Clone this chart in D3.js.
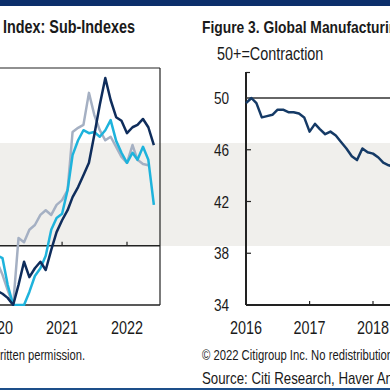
<!DOCTYPE html>
<html>
<head>
<meta charset="utf-8">
<script src="https://cdn.jsdelivr.net/npm/d3@7"></script>
<style>
  body { margin: 0; background: #fff; }
  svg { display: block; font-family: "Liberation Sans", Arial, sans-serif; }
</style>
</head>
<body>
<div id="chart"></div>
<script>
// left panel: sub-indexes, monthly Dec 2019 .. Jun 2022
var leftMonths = ["2019-12","2020-01","2020-02","2020-03","2020-04","2020-05","2020-06","2020-07","2020-08","2020-09","2020-10","2020-11","2020-12",
  "2021-01","2021-02","2021-03","2021-04","2021-05","2021-06","2021-07","2021-08","2021-09","2021-10","2021-11","2021-12",
  "2022-01","2022-02","2022-03","2022-04","2022-05","2022-06"];
var navySeries = [42.5, 42.4, 41.9, 41.2, 40, 43.4, 47.3, 44.7, 46.2, 47.3, 45.9, 49.3, 52.3, 54.3, 56.0, 58.2, 59.9, 61.9, 64.0, 68.7, 73.8, 78.3, 74.6, 71.7, 71.1, 69.0, 70.0, 70.4, 71.4, 70.0, 67.0];
var cyanSeries = [49.6, 48.4, 47.9, 43.4, 40, 40, 40, 42.2, 44.9, 46.2, 48.3, 52.7, 54.7, 55.4, 59.4, 65.3, 67.8, 69.5, 69.0, 69.2, 68.4, 69.5, 71.2, 67.7, 65.7, 64.0, 65.7, 64.5, 66.7, 64.5, 56.9];
var graySeries = [49.3, 47.3, 45.1, 42.5, 40, 51.3, 50.6, 52.7, 53.5, 55.2, 56.0, 55.2, 56.9, 57.7, 59.4, 69.2, 69.9, 70.4, 75.8, 72.1, 69.5, 67.8, 68.4, 66.7, 65.0, 64.0, 67.0, 64.5, 63.8, 63.6, null];
var leftYears = ["2020", "2021", "2022"];

// right panel: global manufacturing, monthly Jan 2016 .. May 2018
var rightStart = "2016-01";
var rightSeries = [49.6, 50.0, 49.6, 48.5, 48.6, 48.7, 49.1, 49.1, 48.9, 48.9, 48.8, 48.5, 47.4, 48.0, 47.6, 47.2, 47.4, 47.1, 46.6, 46.1, 45.5, 45.2, 46.1, 45.8, 45.7, 45.4, 45.0, 44.8, 44.7];
var rightYears = ["2016", "2017", "2018"];
var rightTicks = [50, 46, 42, 38, 34];

var width = 390, height = 390;
var sx = 0.8; // glyphs in the picture are narrow
var parseMonth = d3.timeParse("%Y-%m");
var ink = "#222";

var svg = d3.select("#chart")
  .append("svg")
  .attr("width", width)
  .attr("height", height);

// header bar, footer rule and the grey band across the middle
svg.append("rect").attr("x", 0).attr("y", 0).attr("width", width).attr("height", 6).attr("fill", "#0c2f6b");
svg.append("rect").attr("x", 0).attr("y", 388).attr("width", width).attr("height", 2).attr("fill", "#1d4f8a");
svg.append("rect").attr("x", 0).attr("y", 143).attr("width", width).attr("height", 103).attr("fill", "#f0efec");

function label(x, y, txt, size, opts) {
  opts = opts || {};
  return svg.append("text")
    .attr("transform", "translate(" + x + "," + y + ") scale(" + sx + ",1)")
    .attr("text-anchor", opts.anchor || "start")
    .style("font-size", size + "px")
    .style("font-weight", opts.bold ? "bold" : "normal")
    .attr("fill", opts.fill || "#1a1a1a")
    .text(txt);
}

/// LEFT PANEL
var xL = d3.scaleTime()
  .domain([parseMonth("2020-01"), parseMonth("2022-01")])
  .range([-3, 127]);
var yL = d3.scaleLinear()
  .domain([40, 80])
  .range([305, 68]);

var left = svg.append("g").attr("class", "left");

left.append("clipPath").attr("id", "clip-left")
  .append("rect").attr("x", -10).attr("y", yL(80)).attr("width", 170).attr("height", yL(40) - yL(80) + 1);

// frame
left.append("line").attr("x1", 0).attr("x2", 160).attr("y1", yL(80)).attr("y2", yL(80)).attr("stroke", ink).attr("stroke-width", 1.2);
left.append("line").attr("x1", 160).attr("x2", 160).attr("y1", yL(80)).attr("y2", yL(40)).attr("stroke", ink).attr("stroke-width", 1.2);
left.append("line").attr("x1", 0).attr("x2", 160).attr("y1", yL(40)).attr("y2", yL(40)).attr("stroke", ink).attr("stroke-width", 1.5);
left.append("line").attr("x1", 0).attr("x2", 160).attr("y1", yL(50)).attr("y2", yL(50)).attr("stroke", ink).attr("stroke-width", 1.5);

// year ticks sit on the 50 line
left.selectAll("line.ytick")
  .data(leftYears.slice(1))
  .enter()
  .append("line")
  .attr("class", "ytick")
  .attr("x1", function (d) { return xL(parseMonth(d + "-01")); })
  .attr("x2", function (d) { return xL(parseMonth(d + "-01")); })
  .attr("y1", yL(50))
  .attr("y2", yL(50) - 4)
  .attr("stroke", ink)
  .attr("stroke-width", 1.2);

var lineL = d3.line()
  .defined(function (d) { return d.v != null; })
  .x(function (d) { return xL(d.date); })
  .y(function (d) { return yL(d.v); });

var leftSeries = [
  { values: graySeries, color: "#a5b0c3" },
  { values: cyanSeries, color: "#1eb3dc" },
  { values: navySeries, color: "#0f2d5c" }
];

left.append("g")
  .attr("clip-path", "url(#clip-left)")
  .selectAll("path")
  .data(leftSeries)
  .enter()
  .append("path")
  .attr("fill", "none")
  .attr("stroke", function (d) { return d.color; })
  .attr("stroke-width", 2.5)
  .attr("stroke-linejoin", "round")
  .attr("d", function (s) {
    return lineL(s.values.map(function (v, i) { return { date: parseMonth(leftMonths[i]), v: v }; }));
  });

leftYears.forEach(function (yr) {
  label(xL(parseMonth(yr + "-01")), 334, yr, 18, { anchor: "middle" });
});

label(3, 33, "Index: Sub-Indexes", 18, { bold: true });
label(0, 360, "ritten permission.", 14);

/// RIGHT PANEL
var xR = d3.scaleTime()
  .domain([parseMonth("2016-01"), parseMonth("2018-01")])
  .range([246, 373]);
var yR = d3.scaleLinear()
  .domain([34, 50])
  .range([305, 98]);

var right = svg.append("g").attr("class", "right");

right.append("line").attr("x1", 246).attr("x2", 246).attr("y1", 72).attr("y2", yR(34)).attr("stroke", ink).attr("stroke-width", 2);
right.append("line").attr("x1", 246).attr("x2", 250).attr("y1", 72.5).attr("y2", 72.5).attr("stroke", ink).attr("stroke-width", 1.2);
right.append("line").attr("x1", 246).attr("x2", width).attr("y1", yR(34)).attr("y2", yR(34)).attr("stroke", ink).attr("stroke-width", 2);
right.append("line").attr("x1", 246).attr("x2", width).attr("y1", yR(50)).attr("y2", yR(50)).attr("stroke", "#333").attr("stroke-width", 1.6);

right.selectAll("line.ytick")
  .data(rightTicks.slice(1, 4))
  .enter()
  .append("line")
  .attr("class", "ytick")
  .attr("x1", 246).attr("x2", 251)
  .attr("y1", function (d) { return yR(d); })
  .attr("y2", function (d) { return yR(d); })
  .attr("stroke", ink)
  .attr("stroke-width", 1.2);

right.selectAll("line.xtick")
  .data(rightYears.slice(1))
  .enter()
  .append("line")
  .attr("class", "xtick")
  .attr("x1", function (d) { return xR(parseMonth(d + "-01")); })
  .attr("x2", function (d) { return xR(parseMonth(d + "-01")); })
  .attr("y1", yR(34))
  .attr("y2", yR(34) - 4)
  .attr("stroke", ink)
  .attr("stroke-width", 1.2);

var rightData = rightSeries.map(function (v, i) {
  return { date: d3.timeMonth.offset(parseMonth(rightStart), i), v: v };
});

right.append("path")
  .datum(rightData)
  .attr("fill", "none")
  .attr("stroke", "#153a66")
  .attr("stroke-width", 2.5)
  .attr("stroke-linejoin", "round")
  .attr("d", d3.line()
    .x(function (d) { return xR(d.date); })
    .y(function (d) { return yR(d.v); }));

rightTicks.forEach(function (t) {
  label(229, yR(t) + 6, String(t), 17, { anchor: "end" });
});
rightYears.forEach(function (yr) {
  label(xR(parseMonth(yr + "-01")), 334, yr, 18, { anchor: "middle" });
});

label(202, 33, "Figure 3. Global Manufacturing PMI", 17.3, { bold: true });
label(217, 60, "50+=Contraction", 18);
label(202, 360, "\u00a9 2022 Citigroup Inc. No redistribution without Citigroup's written permission.", 14.1);
label(202, 384, "Source: Citi Research, Haver Analytics", 16.6);
</script>
</body>
</html>
